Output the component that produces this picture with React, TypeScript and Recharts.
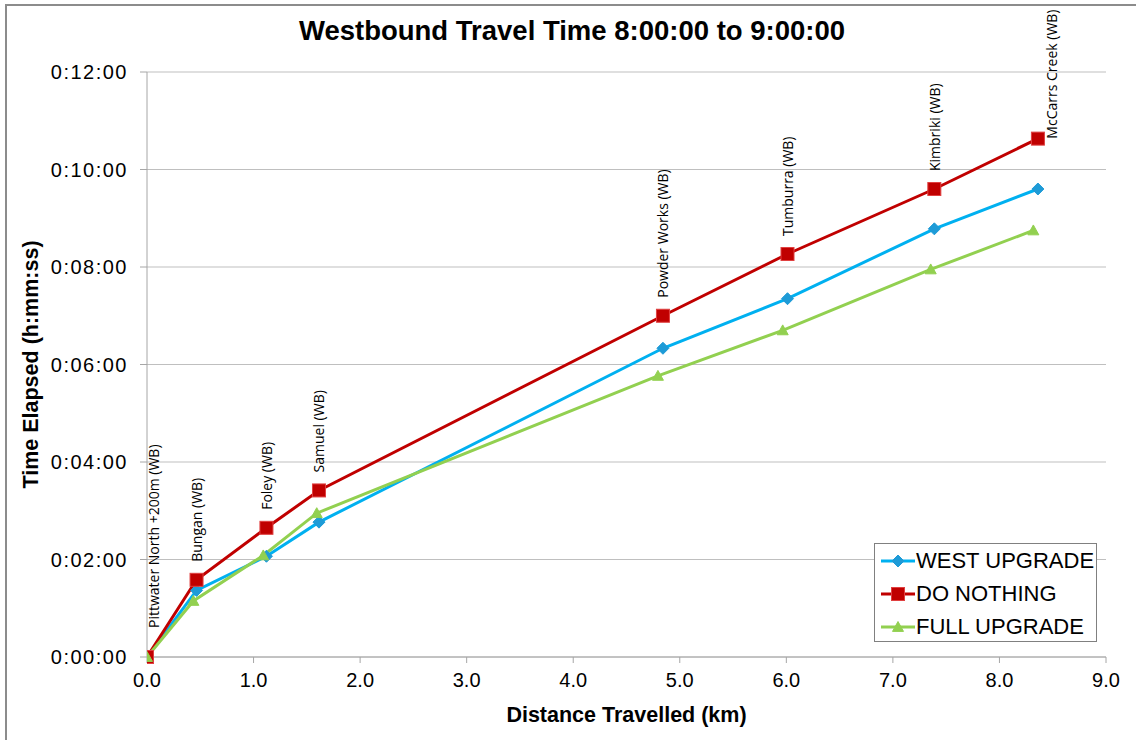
import React from "react";
import { LineChart, Line, XAxis, YAxis, CartesianGrid, LabelList } from "recharts";

const stops = [
  "Pittwater North +200m (WB)",
  "Bungan (WB)",
  "Foley (WB)",
  "Samuel (WB)",
  "Powder Works (WB)",
  "Tumburra (WB)",
  "Kimbriki (WB)",
  "McCarrs Creek (WB)",
];
const distKm = [0, 0.465, 1.121, 1.614, 4.842, 6.011, 7.389, 8.361];
const distKmFull = [0, 0.435, 1.091, 1.593, 4.795, 5.966, 7.355, 8.318];
// elapsed time in seconds
const westUpgrade = [0, 82, 124, 166, 380, 441, 527, 576];
const doNothing = [0, 95, 159, 205, 420, 496, 576, 638];
const fullUpgrade = [0, 69, 125, 177, 346, 402, 477, 525];

const xTicks = [0, 1, 2, 3, 4, 5, 6, 7, 8, 9];
const yTicks = [0, 120, 240, 360, 480, 600, 720];

const build = (xs: number[], ys: number[]) => xs.map((x, i) => ({ km: x, t: ys[i], name: stops[i] }));
const westData = build(distKm, westUpgrade);
const nothingData = build(distKm, doNothing);
const fullData = build(distKmFull, fullUpgrade);

const series = [
  { name: "WEST UPGRADE", color: "#00B0F0", marker: "#1E9BD7", shape: "diamond" },
  { name: "DO NOTHING", color: "#C00000", marker: "#C00000", shape: "square" },
  { name: "FULL UPGRADE", color: "#92D050", marker: "#92D050", shape: "triangle" },
];

const fmtTime = (s: number) => {
  const h = Math.floor(s / 3600);
  const m = Math.floor((s % 3600) / 60);
  const sec = Math.round(s % 60);
  return `${h}:${String(m).padStart(2, "0")}:${String(sec).padStart(2, "0")}`;
};

const FONT = "'Liberation Sans', Arial, sans-serif";

const Marker = ({ shape, cx, cy, fill }: any) => {
  if (cx == null || cy == null) return null;
  if (shape === "square") {
    return <rect x={cx - 6.5} y={cy - 6.5} width={13} height={13} fill={fill} stroke="#E04040" strokeWidth={1} />;
  }
  if (shape === "diamond") {
    const r = 6;
    return <polygon points={`${cx},${cy - r} ${cx + r},${cy} ${cx},${cy + r} ${cx - r},${cy}`} fill={fill} stroke={fill} strokeWidth={1} />;
  }
  const r = 5.5;
  return <polygon points={`${cx},${cy - r} ${cx + r},${cy + r * 0.8} ${cx - r},${cy + r * 0.8}`} fill={fill} stroke={fill} strokeWidth={1} />;
};

const makeDot = (shape: string, fill: string) => (props: any) => (
  <Marker key={`${shape}-${props.index}`} shape={shape} cx={props.cx} cy={props.cy} fill={fill} />
);

const StopLabel = (props: any) => {
  const { x, y, value, index } = props;
  const last = index === stops.length - 1;
  const dx = index === 0 ? 6 : last ? 14 : 0;
  const gap = index === 0 ? 29 : last ? 0 : 18;
  const ax = x + dx;
  const ay = y - gap;
  return (
    <text
      x={ax}
      y={ay}
      transform={`rotate(-90, ${ax}, ${ay})`}
      textAnchor="start"
      dominantBaseline="central"
      fontFamily="'Open Sans', sans-serif"
      fontSize={14}
      fill="#000"
    >
      {value}
    </text>
  );
};

const LegendBox = () => (
  <div
    style={{
      position: "absolute",
      left: 874,
      top: 543,
      width: 223,
      height: 99,
      border: "1px solid #808080",
      background: "#fff",
      boxSizing: "border-box",
      paddingTop: 0,
      fontFamily: FONT,
      fontSize: 22,
    }}
  >
    {series.map((s) => (
      <div key={s.name} style={{ display: "flex", alignItems: "center", height: 33 }}>
        <svg width={40} height={20} style={{ marginLeft: 5 }}>
          <line x1={1} y1={10} x2={35} y2={10} stroke={s.color} strokeWidth={3} />
          <Marker shape={s.shape} cx={18} cy={10} fill={s.marker} />
        </svg>
        <span style={{ marginLeft: -4 }}>{s.name}</span>
      </div>
    ))}
  </div>
);

export default function App() {
  return (
    <div style={{ position: "absolute", left: 0, top: 0, width: 1136, height: 740, background: "#fff", overflow: "hidden" }}>
      <div
        style={{
          position: "absolute",
          left: 5,
          top: 4,
          width: 1160,
          height: 760,
          borderTop: "2px solid #8c8c8c",
          borderLeft: "2px solid #8c8c8c",
        }}
      />
      <div
        style={{
          position: "absolute",
          left: 0,
          top: 15,
          width: 1144,
          textAlign: "center",
          fontFamily: FONT,
          fontWeight: "bold",
          fontSize: 27.5,
          color: "#000",
        }}
      >
        Westbound Travel Time 8:00:00 to 9:00:00
      </div>
      <div style={{ position: "absolute", left: 0, top: 0 }}>
        <LineChart width={1136} height={740} margin={{ top: 72, right: 30, left: 0, bottom: 0 }}>
          <CartesianGrid horizontal vertical={false} stroke="#BFBFBF" strokeWidth={1} />
          <XAxis
            type="number"
            dataKey="km"
            domain={[0, 9]}
            ticks={xTicks}
            tickFormatter={(v: number) => v.toFixed(1)}
            height={83}
            tickSize={6}
            tickMargin={10}
            stroke="#A6A6A6"
            tick={{ fill: "#000", fontFamily: FONT, fontSize: 20 }}
            allowDataOverflow
            label={{
              value: "Distance Travelled (km)",
              position: "insideBottom",
              offset: 18,
              style: { fill: "#000", fontFamily: FONT, fontSize: 21.5, fontWeight: "bold" },
            }}
          />
          <YAxis
            type="number"
            dataKey="t"
            domain={[0, 720]}
            ticks={yTicks}
            tickFormatter={fmtTime}
            width={147}
            tickSize={7}
            tickMargin={12}
            stroke="#A6A6A6"
            tick={{ fill: "#000", fontFamily: FONT, fontSize: 20, letterSpacing: 1.5 }}
            label={{
              value: "Time Elapsed (h:mm:ss)",
              angle: -90,
              position: "insideLeft",
              offset: 30,
              style: { textAnchor: "middle", fill: "#000", fontFamily: FONT, fontSize: 21.5, fontWeight: "bold" },
            }}
          />
          <Line
            data={westData}
            dataKey="t"
            name={series[0].name}
            stroke={series[0].color}
            strokeWidth={3}
            dot={makeDot(series[0].shape, series[0].marker)}
            activeDot={false}
            isAnimationActive={false}
          />
          <Line
            data={nothingData}
            dataKey="t"
            name={series[1].name}
            stroke={series[1].color}
            strokeWidth={3}
            dot={makeDot(series[1].shape, series[1].marker)}
            activeDot={false}
            isAnimationActive={false}
          >
            <LabelList dataKey="name" content={StopLabel} />
          </Line>
          <Line
            data={fullData}
            dataKey="t"
            name={series[2].name}
            stroke={series[2].color}
            strokeWidth={3}
            dot={makeDot(series[2].shape, series[2].marker)}
            activeDot={false}
            isAnimationActive={false}
          />
        </LineChart>
      </div>
      <LegendBox />
    </div>
  );
}
